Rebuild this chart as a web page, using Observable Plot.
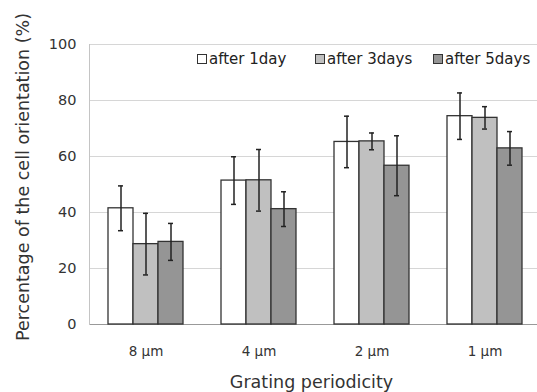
<!DOCTYPE html>
<html><head><meta charset="utf-8">
<script src="https://cdn.jsdelivr.net/npm/d3@7"></script>
<script src="https://cdn.jsdelivr.net/npm/@observablehq/plot@0.6"></script>
<style>
body{margin:0;background:#fff;}
#wrap{position:relative;width:537px;height:392px;overflow:hidden;font-family:"DejaVu Sans",sans-serif;color:#222;}
.lg{position:absolute;top:51px;font-size:15px;line-height:17px;white-space:nowrap;color:#222;}
.lg i{display:inline-block;width:8px;height:8px;border:1px solid #333;margin-right:2px;vertical-align:0px;}
</style></head><body><div id="wrap"></div>
<script>
const groups = ["8 μm", "4 μm", "2 μm", "1 μm"];
const series = ["after 1day", "after 3days", "after 5days"];
const day1 = [41.5, 51.4, 65.2, 74.4];
const day3 = [28.7, 51.5, 65.4, 73.8];
const day5 = [29.5, 41.2, 56.7, 62.9];
const err1 = [8.0, 8.5, 9.2, 8.3];
const err3 = [11.0, 11.0, 3.0, 4.0];
const err5 = [6.6, 6.2, 10.7, 6.0];
const colors = ["#ffffff", "#c0c0c0", "#959595"];
const yTicks = [0, 20, 40, 60, 80, 100];

const vals = [day1, day3, day5], errs = [err1, err3, err5];
const data = [];
groups.forEach((g, gi) => series.forEach((s, si) => data.push({group: g, series: s, value: vals[si][gi], err: errs[si][gi]})));

const font = '"DejaVu Sans",sans-serif';
const plot = Plot.plot({
  width: 537, height: 392,
  marginLeft: 88, marginRight: 0, marginTop: 44, marginBottom: 68,
  style: {fontFamily: font, background: "#fff", color: "#222"},
  fx: {domain: groups, range: [88, 541], padding: 0, label: null},
  x: {domain: series, paddingInner: 0, paddingOuter: 0.74, axis: null},
  y: {domain: [0, 100], ticks: yTicks},
  color: {domain: series, range: colors},
  marks: [
    Plot.ruleY(yTicks.filter(d => d > 0), {stroke: "#d6d6d6", strokeWidth: 1}),
    Plot.ruleY([0], {stroke: "#999", strokeWidth: 1.2}),
    Plot.frame({anchor: "left", facet: "super", stroke: "#c4c4c4"}),
    Plot.axisY({ticks: yTicks, tickSize: 0, tickPadding: 13, fontSize: 14.5, label: null, fill: "#333"}),
    Plot.text(["Percentage of the cell orientation (%)"], {facet: "super", frameAnchor: "left", textAnchor: "middle", rotate: -90, dx: -66, dy: -7.5, fontSize: 17.5, fill: "#333", lineAnchor: "middle"}),
    Plot.axisFx({anchor: "bottom", tickSize: 0, tickPadding: 22, fontSize: 13.5, label: null, fill: "#333"}),
    Plot.text(["Grating periodicity"], {facet: "super", frameAnchor: "bottom", dx: -4, dy: 58, fontSize: 17.5, fill: "#333", lineAnchor: "middle"}),
    Plot.barY(data, {fx: "group", x: "series", y: "value", fill: "series", stroke: "#333", strokeWidth: 1.3}),
    Plot.ruleX(data, {fx: "group", x: "series", y1: d => d.value - d.err, y2: d => d.value + d.err, stroke: "#222", strokeWidth: 1.5}),
    Plot.tickY(data, {fx: "group", x: "series", y: d => d.value + d.err, inset: 10, stroke: "#222", strokeWidth: 1.5}),
    Plot.tickY(data, {fx: "group", x: "series", y: d => d.value - d.err, inset: 10, stroke: "#222", strokeWidth: 1.5})
  ]
});
const wrap = document.getElementById("wrap");
wrap.appendChild(plot);
const lefts = [197, 315, 433];
series.forEach((s, i) => {
  const d = document.createElement("div");
  d.className = "lg";
  d.style.left = lefts[i] + "px";
  d.innerHTML = `<i style="background:${colors[i]}"></i>${s}`;
  wrap.appendChild(d);
});
</script></body></html>
